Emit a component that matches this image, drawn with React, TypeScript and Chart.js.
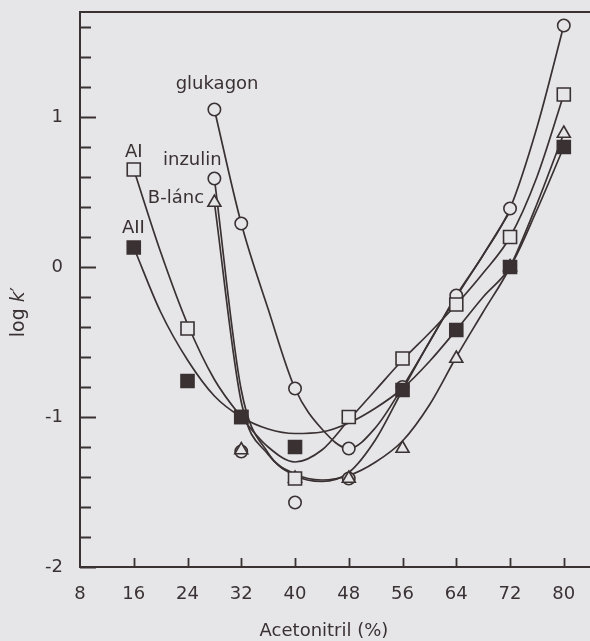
import React, { useEffect, useRef } from "react";
import { Chart, registerables } from "chart.js";

Chart.register(...registerables);

const INK = "#3a3132";
const PAPER = "#e6e6e8";
const FONT = "'DejaVu Sans', 'Liberation Sans', Arial, sans-serif";

// Acetonitrile content (%) of the measured points
const glukagonX = [28, 32, 40, 48, 56, 64, 72, 80];
const glukagonY = [1.05, 0.29, -0.81, -1.21, -0.8, -0.19, 0.39, 1.61];
const inzulinX = [28, 32, 40, 48];
const inzulinY = [0.59, -1.23, -1.57, -1.41];
const bLancX = [28, 32, 40, 48, 56, 64, 72, 80];
const bLancY = [0.43, -1.22, -1.41, -1.41, -1.21, -0.61, 0.0, 0.89];
const aIX = [16, 24, 32, 40, 48, 56, 64, 72, 80];
const aIY = [0.65, -0.41, -1.0, -1.41, -1.0, -0.61, -0.25, 0.2, 1.15];
const aIIX = [16, 24, 32, 40, 56, 64, 72, 80];
const aIIY = [0.13, -0.76, -1.0, -1.2, -0.82, -0.42, 0.0, 0.8];

// Fitted retention curves, read at every 4 % acetonitrile
const fitX = [16, 20, 24, 28, 32, 36, 40, 44, 48, 52, 56, 60, 64, 68, 72, 76, 80];
const glukagonFit = [null, null, null, 1.05, 0.29, -0.28, -0.81, -1.08, -1.21, -1.07, -0.8, -0.5, -0.19, 0.08, 0.39, 0.93, 1.61];
const inzulinFit = [null, null, null, 0.59, -0.82, -1.24, -1.39, -1.43, -1.37, -1.15, -0.82, -0.5, -0.2, 0.08, 0.37, null, null];
const bLancFit = [null, null, null, 0.43, -0.9, -1.25, -1.38, -1.42, -1.39, -1.3, -1.16, -0.92, -0.6, -0.3, 0.0, 0.42, 0.89];
const aIFit = [0.65, 0.1, -0.38, -0.75, -1.0, -1.2, -1.3, -1.22, -1.02, -0.82, -0.62, -0.44, -0.25, -0.04, 0.2, 0.6, 1.15];
const aIIFit = [0.13, -0.3, -0.62, -0.86, -1.0, -1.08, -1.11, -1.1, -1.04, -0.94, -0.81, -0.63, -0.42, -0.2, 0.0, 0.38, 0.8];

// Axis ticks
const xLabelValues = [8, 16, 24, 32, 40, 48, 56, 64, 72, 80];
const xTickValues = [16, 24, 32, 40, 48, 56, 64, 72, 80];
const yLabelValues = [-2, -1, 0, 1];
const yTickValues = [-2, -1.8, -1.6, -1.4, -1.2, -1, -0.8, -0.6, -0.4, -0.2, 0, 0.2, 0.4, 0.6, 0.8, 1, 1.2, 1.4, 1.6];

// Curve names written next to the first points
const seriesNames = ["glukagon", "AI", "inzulin", "B-lánc", "AII"];
const nameAnchors = [
  { x: 28.4, y: 1.187, align: "center" },
  { x: 14.7, y: 0.733, align: "left" },
  { x: 20.35, y: 0.68, align: "left" },
  { x: 18.1, y: 0.427, align: "left" },
  { x: 14.25, y: 0.227, align: "left" },
];

const pts = (xs: number[], ys: (number | null)[]) =>
  xs.map((x, i) => ({ x, y: ys[i] }));

function curve(ys: (number | null)[]) {
  return {
    type: "line" as const,
    data: pts(fitX, ys),
    borderColor: INK,
    borderWidth: 1.7,
    pointRadius: 0,
    cubicInterpolationMode: "monotone" as const,
    spanGaps: false,
    order: 2,
  };
}

function markers(xs: number[], ys: number[], style: string, filled: boolean, radius: number) {
  return {
    type: "line" as const,
    data: pts(xs, ys),
    showLine: false,
    pointStyle: style,
    pointRadius: radius,
    pointBorderWidth: 1.6,
    pointBorderColor: INK,
    pointBackgroundColor: filled ? INK : PAPER,
    order: 1,
  };
}

const decor = {
  id: "decor",
  beforeDraw(chart: any) {
    const { ctx, width, height } = chart;
    ctx.save();
    ctx.fillStyle = PAPER;
    ctx.fillRect(0, 0, width, height);
    ctx.restore();
  },
  afterDatasetsDraw(chart: any) {
    const { ctx, chartArea: a, scales } = chart;
    const x = scales.x;
    const y = scales.y;
    ctx.save();
    ctx.strokeStyle = INK;
    ctx.lineWidth = 2;
    ctx.beginPath();
    ctx.moveTo(chart.width, a.top);
    ctx.lineTo(a.left, a.top);
    ctx.lineTo(a.left, a.bottom);
    ctx.lineTo(chart.width, a.bottom);
    ctx.stroke();

    ctx.lineWidth = 1.8;
    ctx.beginPath();
    yTickValues.forEach((v) => {
      const py = Math.round(y.getPixelForValue(v)) + 0.5;
      const major = Math.abs(v - Math.round(v)) < 1e-6;
      ctx.moveTo(a.left, py);
      ctx.lineTo(a.left + (major ? 16 : 11), py);
    });
    xTickValues.forEach((v) => {
      const px = Math.round(x.getPixelForValue(v)) + 0.5;
      ctx.moveTo(px, a.bottom);
      ctx.lineTo(px, a.bottom - 9);
    });
    ctx.stroke();

    ctx.fillStyle = INK;
    ctx.font = `18px ${FONT}`;
    ctx.textBaseline = "alphabetic";
    seriesNames.forEach((name, i) => {
      const p = nameAnchors[i];
      ctx.textAlign = p.align;
      ctx.fillText(name, x.getPixelForValue(p.x), y.getPixelForValue(p.y));
    });

    // axis titles
    ctx.textAlign = "center";
    ctx.textBaseline = "middle";
    ctx.font = `18px ${FONT}`;
    ctx.fillText("Acetonitril (%)", 324, 631);

    ctx.translate(19, 312);
    ctx.rotate(-Math.PI / 2);
    ctx.font = `19px ${FONT}`;
    const a1 = "log ";
    const w1 = ctx.measureText(a1).width;
    ctx.font = `italic 19px ${FONT}`;
    const w2 = ctx.measureText("k").width;
    ctx.font = `19px ${FONT}`;
    const w3 = ctx.measureText("′").width;
    let start = -(w1 + w2 + w3) / 2;
    ctx.textAlign = "left";
    ctx.fillText(a1, start, 0);
    start += w1;
    ctx.font = `italic 19px ${FONT}`;
    ctx.fillText("k", start, 0);
    start += w2;
    ctx.font = `19px ${FONT}`;
    ctx.fillText("′", start, 0);
    ctx.restore();
  },
};

export default function App() {
  const ref = useRef<HTMLCanvasElement | null>(null);

  useEffect(() => {
    if (!ref.current) return;
    const chart = new Chart(ref.current, {
      type: "line",
      data: {
        datasets: [
          curve(glukagonFit),
          curve(inzulinFit),
          curve(bLancFit),
          curve(aIFit),
          curve(aIIFit),
          markers(aIIX, aIIY, "rect", true, 9.2) as any,
          markers(aIX, aIY, "rect", false, 9.2) as any,
          markers(bLancX, bLancY, "triangle", false, 7.5) as any,
          markers(inzulinX, inzulinY, "circle", false, 6.2) as any,
          markers(glukagonX, glukagonY, "circle", false, 6.2) as any,
        ] as any,
      },
      options: {
        responsive: false,
        animation: false,
        events: [],
        layout: { padding: { top: 12, right: 0, left: 0, bottom: 0 }, autoPadding: false },
        plugins: { legend: { display: false }, tooltip: { enabled: false } },
        scales: {
          x: {
            type: "linear",
            min: 8,
            max: 83.9,
            border: { display: false },
            grid: { display: false, drawTicks: false },
            afterBuildTicks: (s: any) => {
              s.ticks = xLabelValues.map((value) => ({ value }));
            },
            afterFit: (s: any) => {
              s.height = 74;
              s.paddingLeft = 0;
              s.paddingRight = 0;
            },
            ticks: {
              padding: 17,
              color: INK,
              font: { family: FONT, size: 18 },
              maxRotation: 0,
              autoSkip: false,
              callback: (v: any) => String(v),
            },
          },
          y: {
            type: "linear",
            min: -2,
            max: 1.7,
            border: { display: false },
            grid: { display: false, drawTicks: false },
            afterBuildTicks: (s: any) => {
              s.ticks = yLabelValues.map((value) => ({ value }));
            },
            afterFit: (s: any) => {
              s.width = 80;
              s.paddingTop = 0;
              s.paddingBottom = 0;
            },
            ticks: {
              padding: 17,
              color: INK,
              font: { family: FONT, size: 18 },
              callback: (v: any) => String(v),
            },
          },
        },
      },
      plugins: [decor],
    });
    return () => chart.destroy();
  }, []);

  return (
    <div style={{ position: "fixed", left: 0, top: 0, width: 590, height: 641, background: PAPER }}>
      <canvas ref={ref} width={590} height={641} style={{ display: "block" }} />
    </div>
  );
}
